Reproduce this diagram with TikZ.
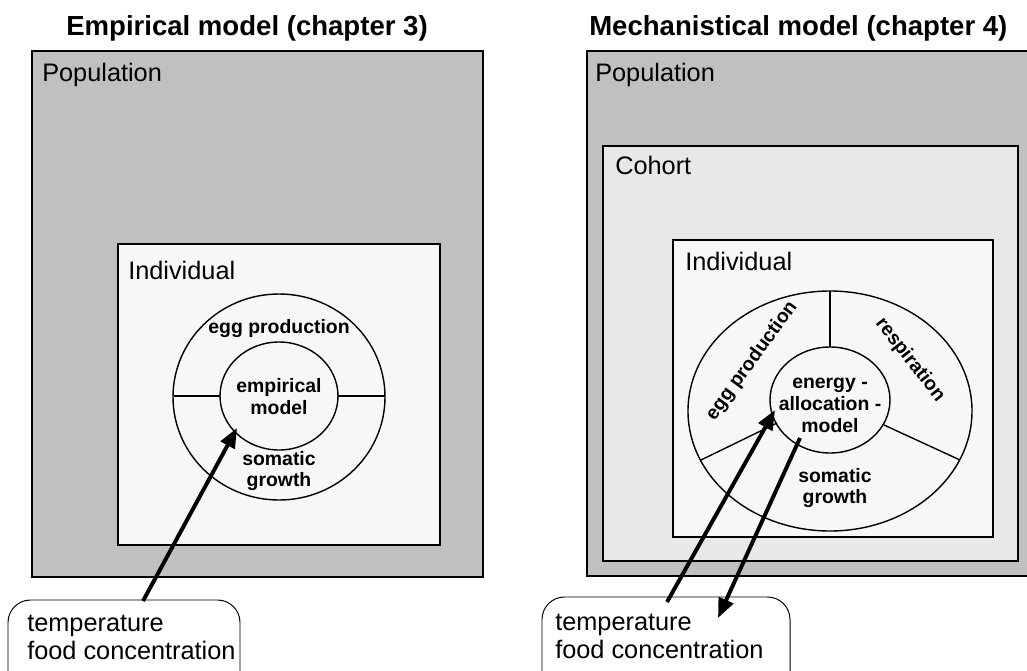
\documentclass[tikz,border=0pt]{standalone}
\usepackage{fontspec}
\setmainfont{Liberation Sans}
\usetikzlibrary{arrows.meta}
\definecolor{popgray}{RGB}{192,192,192}
\definecolor{cohgray}{RGB}{232,232,232}
\definecolor{indgray}{RGB}{247,247,247}

\begin{document}
\begin{tikzpicture}[x=0.025cm,y=-0.025cm,
  popbox/.style={draw,line width=2pt,fill=popgray},
  cohbox/.style={draw,line width=1.8pt,fill=cohgray},
  indbox/.style={draw,line width=1.8pt,fill=indgray},
  ring/.style={line width=1pt},
  lvl/.style={anchor=base west,inner sep=0pt,font=\fontsize{18}{22}\selectfont},
  ttl/.style={anchor=base west,inner sep=0pt,font=\fontsize{19.6}{22}\selectfont\bfseries},
  part/.style={align=center,inner sep=0pt,font=\fontsize{13.8}{15.6}\selectfont\bfseries},
  factbox/.style={draw,line width=0.7pt,rounded corners=16pt},
  facts/.style={anchor=base west,inner sep=0pt,align=left,font=\fontsize{18}{19.5}\selectfont},
  flow/.style={line width=2.8pt,-{Triangle[length=14pt,width=11pt]}}]
  \useasboundingbox (0,0) rectangle (1027,671);

  % ---------- empirical model (left)
  \node[ttl] (ttlemp) at (66,35) {Empirical model (chapter 3)};
  \draw[popbox] (32,51) rectangle (483,577);
  \node[lvl] (popL) at (42,81) {Population};
  \draw[indbox] (118,244) rectangle (440,545);
  \node[lvl] (indL) at (128,279) {Individual};
  % rings
  \draw[ring] (279,397) ellipse [x radius=106,y radius=103];
  \draw[ring] (279,396) ellipse [x radius=59,y radius=54];
  \draw[ring] (174,396)--(220,396);
  \draw[ring] (338,396)--(385,396);
  \node[part] (eggL) at (279,329) {egg production};
  \node[part] (empcore) at (279,397) {empirical\\model};
  \node[part] (somL) at (279,471) {somatic\\growth};
  % environment
  \draw[factbox] (8,600) rectangle (240,720);
  \node[facts] (factsL) at (27,659) {temperature\\food concentration};
  \coordinate (inL) at (143,601);
  \coordinate (coreL) at (237,428);
  \draw[flow] (inL) -- (coreL);

  % ---------- mechanistical model (right)
  \node[ttl] (ttlmech) at (589,35) {Mechanistical model (chapter 4)};
  \draw[popbox] (587,51) rectangle (1045,576);
  \node[lvl] (popR) at (595,81) {Population};
  \draw[cohbox] (603,146) rectangle (1018,561);
  \node[lvl] (cohR) at (615,174) {Cohort};
  \draw[indbox] (673,240) rectangle (993,537);
  \node[lvl] (indR) at (685,270) {Individual};
  % rings
  \draw[ring] (830,411) ellipse [x radius=142,y radius=120];
  \draw[ring] (830,400) ellipse [x radius=60,y radius=53];
  \draw[ring] (830,291)--(830,347);
  \draw[ring] (777,423)--(701,460);
  \draw[ring] (884,425)--(960,460);
  \node[part,rotate=54] (eggR) at (752,361) {egg production};
  \node[part,rotate=-52] (respR) at (910,360) {respiration};
  \node[part] (mechcore) at (830,405) {energy -\\allocation -\\model};
  \node[part] (somR) at (835,488) {somatic\\growth};
  % environment
  \draw[factbox] (542,597) rectangle (790,720);
  \node[facts] (factsR) at (555,658) {temperature\\food concentration};
  \coordinate (inR) at (667,602);
  \coordinate (coreR) at (775,410);
  \coordinate (outR) at (800,438);
  \coordinate (backR) at (718,618);
  \draw[flow] (inR) -- (coreR);
  \draw[flow] (outR) -- (backR);
\end{tikzpicture}
\end{document}
